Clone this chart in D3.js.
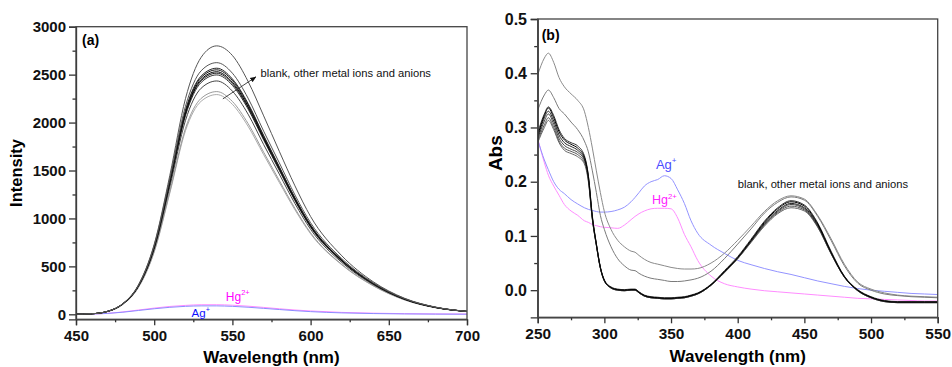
<!DOCTYPE html>
<html><head><meta charset="utf-8">
<script src="https://cdn.jsdelivr.net/npm/d3@7"></script>
<style>
body{margin:0;background:#fff}
svg{display:block}
text{font-family:"Liberation Sans",Arial,sans-serif}
</style>
</head><body>
<svg id="c" width="952" height="367"></svg>
<script>
// ---------- Panel (a): fluorescence ----------
const wlA = [450,460,470,480,490,500,510,520,530,540,550,560,570,580,590,600,620,640,660,680,700];
const fl2800 = [2,6,30,112,310,730,1450,2250,2680,2800,2700,2430,2070,1700,1340,1020,610,340,168,75,31];
const fl2625 = [2,6,30,112,305,720,1420,2170,2540,2625,2515,2255,1910,1580,1245,955,580,330,165,74,30];
const fl2567 = [2,6,30,110,302,708,1395,2130,2485,2567,2455,2200,1865,1540,1215,932,566,323,161,72,30];
const fl2550 = [2,6,30,110,300,704,1390,2115,2470,2550,2440,2187,1855,1532,1210,928,564,322,161,72,30];
const fl2530 = [2,6,30,110,300,700,1380,2100,2450,2530,2420,2170,1840,1520,1200,920,560,320,160,72,30];
const fl2515 = [2,6,30,110,300,698,1372,2088,2436,2515,2405,2157,1830,1512,1194,915,557,318,159,72,30];
const fl2497 = [2,6,30,109,298,692,1362,2072,2418,2497,2388,2142,1817,1500,1185,908,553,316,158,71,30];
const fl2434 = [2,6,29,107,292,676,1330,2022,2358,2434,2328,2088,1770,1462,1155,886,540,310,155,70,29];
const fl2323 = [2,6,28,104,284,656,1280,1940,2252,2323,2220,1990,1690,1395,1105,850,520,300,152,69,29];
const fl2292 = [2,6,28,103,282,650,1265,1915,2222,2292,2190,1962,1665,1375,1090,840,515,297,150,68,29];
const flHg   = [0,3,10,25,45,65,82,93,100,100,95,85,72,58,45,35,20,12,7,4,3];
const flAg   = [0,3,9,22,40,58,73,83,88,88,83,74,62,50,38,28,15,8,4,2,1];
const xTicksA = [450,500,550,600,650,700];
const xMinorA = [475,525,575,625,675];
const yTicksA = [0,500,1000,1500,2000,2500,3000];
const yMinorA = [250,750,1250,1750,2250,2750];

// ---------- Panel (b): absorbance ----------
const wlB = [250,255,258,262,266,270,275,280,285,288,291,294,297,300,305,310,315,320,323,326,330,335,340,345,350,355,360,365,370,380,390,400,410,420,430,440,450,460,470,480,490,500,510,520,530,540,550];
const absG1 = [.397,.428,.437,.420,.392,.375,.362,.350,.330,.300,.262,.220,.180,.145,.112,.092,.080,.072,.070,.064,.057,.051,.048,.045,.042,.040,.039,.039,.040,.050,.068,.092,.118,.145,.165,.174,.168,.138,.095,.048,.015,.002,-.005,-.009,-.011,-.012,-.013];
const absG2 = [.332,.360,.369,.355,.335,.325,.310,.296,.275,.255,.220,.180,.138,.112,.080,.058,.045,.037,.036,.031,.026,.022,.020,.018,.016,.016,.017,.019,.022,.035,.058,.085,.113,.142,.162,.172,.166,.136,.092,.045,.013,.000,-.007,-.010,-.012,-.013,-.014];
const absK1 = [.285,.322,.336,.318,.292,.277,.269,.262,.245,.210,.135,.085,.042,.018,.005,.001,.000,.001,.001,-.004,-.010,-.013,-.014,-.015,-.015,-.014,-.013,-.010,-.006,.010,.034,.060,.092,.125,.150,.163,.155,.122,.070,.025,.000,-.013,-.020,-.022,-.022,-.022,-.022];
const absK2 = [.280,.318,.330,.312,.286,.272,.265,.258,.242,.207,.133,.084,.041,.018,.005,.001,.000,.001,.001,-.004,-.010,-.013,-.014,-.015,-.015,-.014,-.013,-.010,-.006,.010,.034,.060,.091,.123,.147,.160,.152,.120,.069,.025,.000,-.013,-.020,-.022,-.022,-.022,-.022];
const absK3 = [.278,.312,.325,.306,.280,.267,.260,.254,.240,.205,.132,.083,.041,.017,.004,.000,-.001,.000,.000,-.005,-.011,-.014,-.015,-.016,-.016,-.015,-.014,-.011,-.007,.009,.033,.059,.090,.121,.145,.158,.150,.118,.068,.024,-.001,-.014,-.021,-.023,-.023,-.023,-.023];
const absK4 = [.275,.305,.318,.300,.275,.262,.256,.250,.236,.203,.131,.083,.041,.017,.004,.000,-.001,.000,.000,-.005,-.011,-.014,-.015,-.016,-.016,-.015,-.014,-.011,-.007,.009,.033,.058,.089,.120,.143,.155,.148,.117,.068,.024,-.001,-.014,-.021,-.023,-.023,-.023,-.023];
const absK5 = [.290,.325,.338,.322,.296,.280,.272,.266,.248,.212,.137,.086,.043,.019,.006,.002,.001,.002,.002,-.003,-.009,-.012,-.013,-.014,-.014,-.013,-.012,-.009,-.005,.011,.036,.062,.094,.127,.152,.165,.157,.124,.072,.026,.001,-.012,-.019,-.021,-.021,-.021,-.021];
const absK6 = [.272,.300,.313,.296,.272,.258,.252,.246,.233,.200,.130,.082,.040,.017,.004,.000,-.001,.000,.000,-.005,-.011,-.014,-.015,-.016,-.016,-.015,-.014,-.011,-.007,.009,.032,.058,.088,.118,.141,.152,.146,.116,.067,.024,-.001,-.014,-.021,-.023,-.023,-.023,-.023];
const absAg = [.277,.240,.222,.200,.186,.178,.167,.159,.152,.149,.147,.145,.144,.144,.145,.148,.153,.163,.171,.180,.192,.200,.204,.211,.206,.185,.160,.128,.105,.083,.068,.055,.047,.040,.034,.029,.023,.017,.012,.007,.003,.000,-.002,-.004,-.006,-.007,-.008];
const absHg = [.280,.235,.212,.192,.175,.158,.146,.138,.128,.125,.121,.119,.117,.116,.115,.114,.120,.130,.136,.141,.146,.150,.151,.151,.150,.133,.103,.080,.055,.026,.012,.006,.002,-.001,-.003,-.005,-.007,-.009,-.011,-.013,-.015,-.016,-.017,-.018,-.019,-.020,-.020];
const xTicksB = [250,300,350,400,450,500,550];
const xMinorB = [275,325,375,425,475,525];
const yTicksB = [0.0,0.1,0.2,0.3,0.4,0.5];
const yMinorB = [0.05,0.15,0.25,0.35,0.45];

const svg = d3.select("#c");

function drawAxes(g, x, y, o) {
  const [x0,x1] = x.range(), [y0,y1] = y.range();
  const ax = g.append("g").attr("transform",`translate(0,${y0})`)
    .call(d3.axisBottom(x).tickValues(o.xt).tickSize(6).tickPadding(5).tickFormat(d3.format("d")));
  ax.selectAll("text").attr("font-family",o.xFont).attr("font-weight","bold").attr("font-size",o.xSize).attr("fill","#111");
  const axm = g.append("g").attr("transform",`translate(0,${y0})`)
    .call(d3.axisBottom(x).tickValues(o.xm).tickSize(3).tickFormat(""));
  axm.select(".domain").remove();
  const ay = g.append("g").attr("transform",`translate(${x0},0)`)
    .call(d3.axisLeft(y).tickValues(o.yt).tickSize(7).tickPadding(o.yPad).tickFormat(o.yFmt));
  ay.selectAll("text").attr("font-family",o.yFont).attr("font-weight","bold").attr("font-size",o.ySize).attr("fill","#111");
  const aym = g.append("g").attr("transform",`translate(${x0},0)`)
    .call(d3.axisLeft(y).tickValues(o.ym).tickSize(3.5).tickFormat(""));
  aym.select(".domain").remove();
  g.selectAll(".domain, .tick line").attr("stroke","#333").attr("stroke-width",1.3);
  g.append("rect").attr("x",x0).attr("y",y1).attr("width",x1-x0).attr("height",y0-y1)
    .attr("fill","none").attr("stroke","#444").attr("stroke-width",1.3);
}

function drawLines(g, x, y, wl, series, id) {
  const [x0,x1] = x.range(), [y0,y1] = y.range();
  svg.append("clipPath").attr("id",id).append("rect").attr("x",x0).attr("y",y1).attr("width",x1-x0).attr("height",y0-y1);
  const line = d3.line().x((d,i)=>x(wl[i])).y(d=>y(d)).curve(d3.curveMonotoneX);
  g.append("g").attr("clip-path",`url(#${id})`).selectAll("path").data(series).join("path")
    .attr("d",s=>line(s.v)).attr("fill","none").attr("stroke",s=>s.c).attr("stroke-width",s=>s.w||1);
}

function supLabel(g, x, y, base, sup, color, font, size) {
  const t = g.append("text").attr("x",x).attr("y",y).attr("fill",color).attr("font-family",font).attr("font-size",size).text(base);
  t.append("tspan").attr("dy",-size*0.45).attr("font-size",size*0.62).text(sup);
}

// ----- Panel (a) -----
const xA = d3.scaleLinear().domain([450,700]).range([76,467]);
const yA = d3.scaleLinear().domain([-52,3000]).range([319.3,26.7]);
const gA = svg.append("g");
drawLines(gA, xA, yA, wlA, [
  {v:flHg,c:"#ff8cff"},{v:flAg,c:"#8c8cff"},
  {v:fl2292,c:"#aaaaaa"},{v:fl2323,c:"#999999"},
  {v:fl2434,c:"#444444"},{v:fl2497,c:"#333333"},{v:fl2515,c:"#222222"},
  {v:fl2530,c:"#000000"},{v:fl2550,c:"#111111"},{v:fl2567,c:"#222222"},
  {v:fl2625,c:"#555555"},{v:fl2800,c:"#555555"}
], "clipA");
drawAxes(gA, xA, yA, {xt:xTicksA, xm:xMinorA, yt:yTicksA, ym:yMinorA, yPad:3, yFmt:d3.format("d"),
  xFont:"Liberation Sans, Arial, sans-serif", xSize:15, yFont:"Liberation Sans, Arial, sans-serif", ySize:15});
gA.append("text").attr("x",xA(450)+6).attr("y",yA(3000)+18).attr("font-weight","bold").attr("font-size",14).text("(a)");
gA.append("text").attr("transform",`translate(22,${(yA(-52)+yA(3000))/2}) rotate(-90)`).attr("text-anchor","middle")
  .attr("font-weight","bold").attr("font-size",16.5).text("Intensity");
gA.append("text").attr("x",(xA(450)+xA(700))/2).attr("y",362.5).attr("text-anchor","middle")
  .attr("font-weight","bold").attr("font-size",17).text("Wavelength (nm)");
svg.append("defs").append("marker").attr("id","arr").attr("viewBox","0 0 10 10").attr("refX",9).attr("refY",5)
  .attr("markerWidth",7).attr("markerHeight",7).attr("orient","auto")
  .append("path").attr("d","M0,1 L10,5 L0,9 Z").attr("fill","#111");
gA.append("line").attr("x1",xA(543.9)).attr("y1",yA(2247)).attr("x2",xA(565)).attr("y2",yA(2476))
  .attr("stroke","#333").attr("stroke-width",0.9).attr("marker-end","url(#arr)");
gA.append("text").attr("x",xA(568)).attr("y",yA(2473)).attr("font-size",11.2).attr("fill","#111").text("blank, other metal ions and anions");
supLabel(gA, xA(545.8), yA(142), "Hg", "2+", "#ff00ff", "Liberation Sans, Arial, sans-serif", 12);
supLabel(gA, xA(523.9), yA(-25), "Ag", "+", "#1010ff", "Liberation Sans, Arial, sans-serif", 11.5);

// ----- Panel (b) -----
const xB = d3.scaleLinear().domain([250,550]).range([537.7,937.7]);
const yB = d3.scaleLinear().domain([-0.05,0.5]).range([317.3,19]);
const gB = svg.append("g");
drawLines(gB, xB, yB, wlB, [
  {v:absHg,c:"#ff8cff"},{v:absAg,c:"#9393ff"},
  {v:absG1,c:"#8a8a8a"},{v:absG2,c:"#7a7a7a"},
  {v:absK6,c:"#666666"},{v:absK4,c:"#555555"},{v:absK3,c:"#444444"},
  {v:absK2,c:"#222222"},{v:absK5,c:"#333333"},{v:absK1,c:"#000000"}
], "clipB");
drawAxes(gB, xB, yB, {xt:xTicksB, xm:xMinorB, yt:yTicksB, ym:yMinorB, yPad:3.7, yFmt:d3.format(".1f"),
  xFont:"Liberation Sans, Arial, sans-serif", xSize:15.4, yFont:"Liberation Serif, Times New Roman, serif", ySize:16});
gB.append("text").attr("x",xB(250)+4).attr("y",yB(0.5)+21).attr("font-weight","bold").attr("font-size",14).text("(b)");
gB.append("text").attr("transform",`translate(502,${(yB(-0.05)+yB(0.5))/2 - 15}) rotate(-90)`).attr("text-anchor","middle")
  .attr("font-family","Liberation Serif, Times New Roman, serif").attr("font-weight","bold").attr("font-size",19).text("Abs");
gB.append("text").attr("x",(xB(250)+xB(550))/2).attr("y",362).attr("text-anchor","middle")
  .attr("font-weight","bold").attr("font-size",17).text("Wavelength (nm)");
gB.append("text").attr("x",xB(400)).attr("y",yB(0.1876)).attr("font-size",11.2).attr("fill","#111").text("blank, other metal ions and anions");
supLabel(gB, xB(338.7), yB(0.223), "Ag", "+", "#4b4bff", "Liberation Serif, Times New Roman, serif", 13);
supLabel(gB, xB(335.7), yB(0.158), "Hg", "2+", "#ff22ff", "Liberation Sans, Arial, sans-serif", 12.5);
</script>
</body></html>
